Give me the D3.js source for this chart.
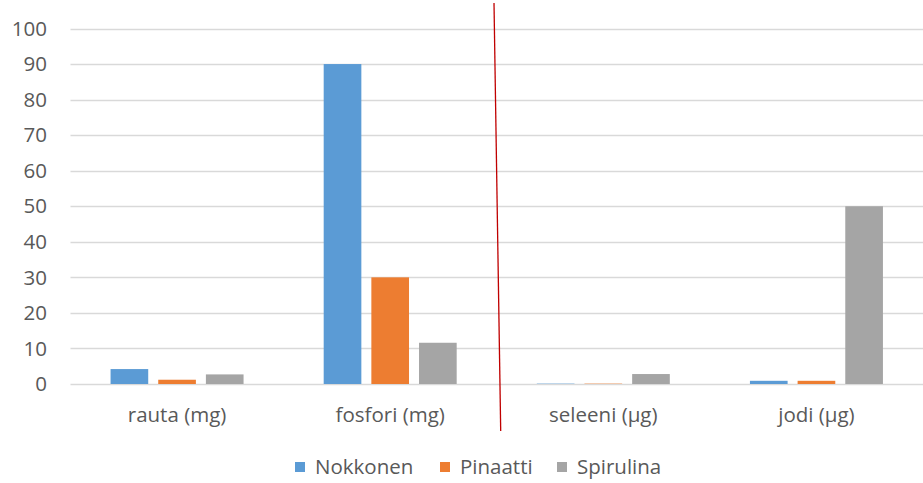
<!DOCTYPE html>
<html><head><meta charset="utf-8">
<script src="https://cdn.jsdelivr.net/npm/d3@7"></script>
<style>body{margin:0;background:#fff}svg{display:block}text{font-family:"Open Sans",sans-serif;fill:#595959}</style>
</head><body><svg id="c" width="923" height="483"></svg>
<script>
const categories = ["rauta (mg)", "fosfori (mg)", "seleeni (µg)", "jodi (µg)"];
const seriesNames = ["Nokkonen", "Pinaatti", "Spirulina"];
const nokkonen = [4.2, 90, 0.1, 0.9];
const pinaatti = [1.2, 30, 0.1, 0.9];
const spirulina = [2.7, 11.6, 2.8, 50];
const yTicks = [0, 10, 20, 30, 40, 50, 60, 70, 80, 90, 100];
const colors = ["#5b9bd5", "#ed7d31", "#a5a5a5"];
const values = [nokkonen, pinaatti, spirulina];

(function(){
const svg = d3.select("#c");
const pLeft = 70.5, pRight = 923, pTop = 28.5, pBottom = 384;
const x = d3.scaleBand().domain(categories).range([pLeft, pRight]).padding(0);
const y = d3.scaleLinear().domain([0, 100]).range([pBottom, pTop]);
const groupW = 133;
const xs = d3.scaleBand().domain(seriesNames).range([0, groupW]).paddingInner(0.21).paddingOuter(0);

svg.append("g").selectAll("line").data(yTicks).join("line")
  .attr("x1", pLeft).attr("x2", 923)
  .attr("y1", d => Math.round(y(d)) + 0.5).attr("y2", d => Math.round(y(d)) + 0.5)
  .attr("stroke", "#d9d9d9").attr("stroke-width", 1.5);

svg.append("g").selectAll("text").data(yTicks).join("text")
  .attr("x", 47).attr("y", d => y(d)).attr("dy", "0.35em")
  .attr("text-anchor", "end").style("font-size", "20.5px").text(d => d);

seriesNames.forEach((s, i) => {
  svg.append("g").selectAll("rect").data(categories).join("rect")
    .attr("x", c => x(c) + (x.bandwidth() - groupW) / 2 + xs(s))
    .attr("width", xs.bandwidth())
    .attr("y", (c, j) => y(values[i][j]))
    .attr("height", (c, j) => pBottom - y(values[i][j]))
    .attr("fill", colors[i]);
});

svg.append("g").selectAll("text").data(categories).join("text")
  .attr("x", c => x(c) + x.bandwidth() / 2).attr("y", 415).attr("dy", "0.35em")
  .attr("text-anchor", "middle").style("font-size", "20.5px").text(c => c);

svg.append("line").attr("x1", 494).attr("y1", 3).attr("x2", 500.7).attr("y2", 431)
  .attr("stroke", "#c00000").attr("stroke-width", 1.3);

const legX = [295, 440, 557];
const lg = svg.append("g").selectAll("g").data(seriesNames).join("g")
  .attr("transform", (d, i) => `translate(${legX[i]},467)`);
lg.append("rect").attr("x", 0).attr("y", -5).attr("width", 10).attr("height", 10).attr("fill", (d, i) => colors[i]);
lg.append("text").attr("x", 20).attr("y", 0).attr("dy", "0.35em").style("font-size", "20.5px").text(d => d);
})();
</script></body></html>
